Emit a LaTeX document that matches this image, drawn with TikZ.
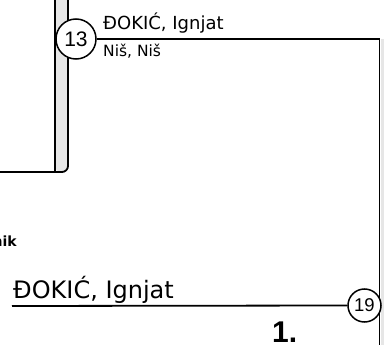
\documentclass[tikz,border=0pt]{standalone}
\usepackage{fontspec}
\setmainfont{DejaVu Sans}
\newfontfamily\numfont{Liberation Sans}
\definecolor{shadowgray}{HTML}{E6E6E6}
\tikzset{
  numcircle/.style={circle,draw,line width=1.5pt,fill=white,inner sep=0pt},
  chartline/.style={line width=1.8pt},
  txt/.style={inner sep=0pt,anchor=base west}
}
\begin{document}
\begin{tikzpicture}[x=1pt,y=-1pt]
      \useasboundingbox (0,0) rectangle (384,345);
      % left box with shadow
      \fill[shadowgray,rounded corners=6pt] (55,-5) -- (68,-5) -- (68,172) -- (55,172) -- cycle;
      \draw[chartline] (55,0) -- (55,172);
      \draw[chartline,rounded corners=6pt] (68,-5) -- (68,172) -- (0,172);
      % right box with shadow
      \fill[shadowgray] (380.5,39) rectangle (384,345);
      \coordinate (rtop) at (379.5,39);
      \coordinate (rbot) at (379.5,345);
      \coordinate (lend) at (12,306);
      \draw[chartline] (rtop) -- (rbot);
      \node[numcircle,minimum size=40pt] (p13) at (76,39) {\numfont\fontsize{21}{21}\selectfont 13};
      \node[numcircle,minimum size=33pt] (p19) at (364.5,305.5) {\numfont\fontsize{18.5}{18.5}\selectfont 19};
      \draw[chartline] (p13.east) -- (rtop);
      \draw[chartline] (lend) -- (p19.west);
      \node[txt] (name13) at (103,30) {\fontsize{18}{18}\selectfont ĐOKIĆ, Ignjat};
      \node[txt] (place13) at (103,57) {\fontsize{15.5}{15.5}\selectfont Niš, Niš};
      \node[inner sep=0pt,anchor=base east] (role) at (17,247) {\fontsize{14}{14}\selectfont\bfseries nik};
      \node[txt] (name19) at (13,299) {\fontsize{24}{24}\selectfont ĐOKIĆ, Ignjat};
      \node[txt] (gen) at (272,343) {\numfont\fontsize{30}{30}\selectfont\bfseries 1.};
    \end{tikzpicture}
\end{document}
